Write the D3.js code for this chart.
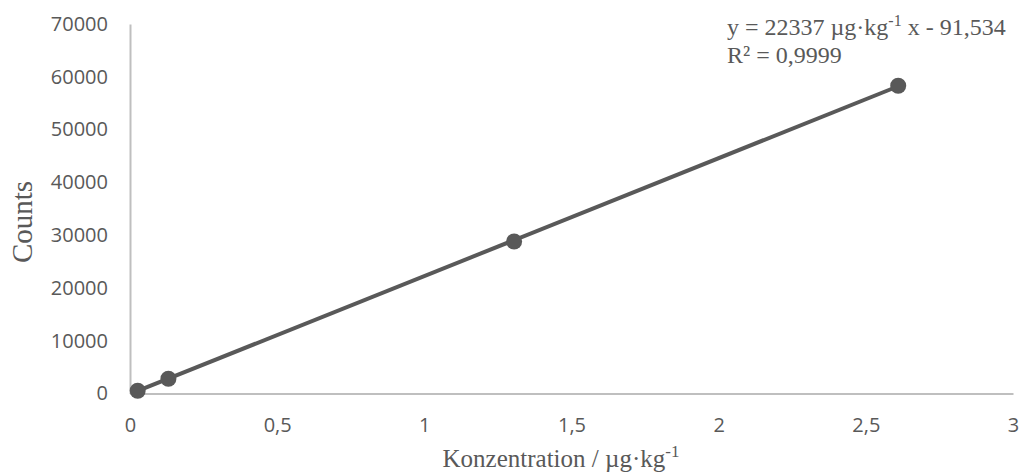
<!DOCTYPE html>
<html><head><meta charset="utf-8">
<script src="https://cdn.jsdelivr.net/npm/d3@7"></script>
<style>body{margin:0;background:#fff}svg{display:block}</style>
</head><body><svg id="c" width="1021" height="473"></svg>
<script>
const concentrations = [0.0261, 0.1305, 1.305, 2.61];
const counts = [520, 2800, 28800, 58300];
const xTicks = [0, 0.5, 1, 1.5, 2, 2.5, 3];
const yTicks = [0, 10000, 20000, 30000, 40000, 50000, 60000, 70000];
const slope = 22337, intercept = -91.534;

const svg = d3.select("#c");
const x = d3.scaleLinear().domain([0, 3]).range([130, 1013]);
const y = d3.scaleLinear().domain([0, 70000]).range([393.5, 24]);
const tickFont = "'Open Sans', Lato, sans-serif";
const serif = "'Liberation Serif', 'Times New Roman', serif";
const fmt = d => String(d).replace(".", ",");

const xAxis = svg.append("g").attr("transform", `translate(0,${y(0)})`)
  .call(d3.axisBottom(x).tickValues(xTicks).tickSize(0).tickPadding(24).tickFormat(fmt));
xAxis.select(".domain").attr("stroke", "#bfbfbf").attr("stroke-width", 2);
xAxis.selectAll("text").attr("fill", "#595959").style("font-family", tickFont).style("font-size", "20px");

const yAxis = svg.append("g").attr("transform", `translate(${x(0)},0)`)
  .call(d3.axisLeft(y).tickValues(yTicks).tickSize(0).tickPadding(22).tickFormat(d3.format("d")));
yAxis.select(".domain").attr("stroke", "#bfbfbf").attr("stroke-width", 2);
yAxis.selectAll("text").attr("fill", "#595959").style("font-family", tickFont).style("font-size", "20px");

const data = concentrations.map((c, i) => ({c, v: counts[i]}));
const xs = d3.extent(concentrations);
svg.append("path")
  .attr("d", d3.line().x(d => x(d[0])).y(d => y(d[1]))(xs.map(c => [c, slope * c + intercept])))
  .attr("stroke", "#595959").attr("stroke-width", 4).attr("fill", "none");
svg.selectAll("circle.pt").data(data).enter().append("circle")
  .attr("class", "pt").attr("cx", d => x(d.c)).attr("cy", d => y(d.v)).attr("r", 8)
  .attr("fill", "#595959");

// equation
const eq = svg.append("text").attr("x", 727).attr("y", 35)
  .style("font-family", serif).style("font-size", "24px").attr("fill", "#595959");
eq.append("tspan").text("y = 22337 µg·kg");
eq.append("tspan").attr("dy", -9).style("font-size", "16px").text("-1");
eq.append("tspan").attr("dy", 9).text(" x - 91,534");
svg.append("text").attr("x", 727).attr("y", 63)
  .style("font-family", serif).style("font-size", "24px").attr("fill", "#595959")
  .text("R² = 0,9999");

// axis titles
const xt = svg.append("text").attr("x", 561).attr("y", 467).attr("text-anchor", "middle")
  .style("font-family", serif).style("font-size", "25px").attr("fill", "#595959");
xt.append("tspan").text("Konzentration / µg·kg");
xt.append("tspan").attr("dy", -10).style("font-size", "17px").text("-1");

svg.append("text").attr("transform", "translate(32,222) rotate(-90)").attr("text-anchor", "middle")
  .style("font-family", serif).style("font-size", "29px").attr("fill", "#595959").text("Counts");
</script></body></html>
